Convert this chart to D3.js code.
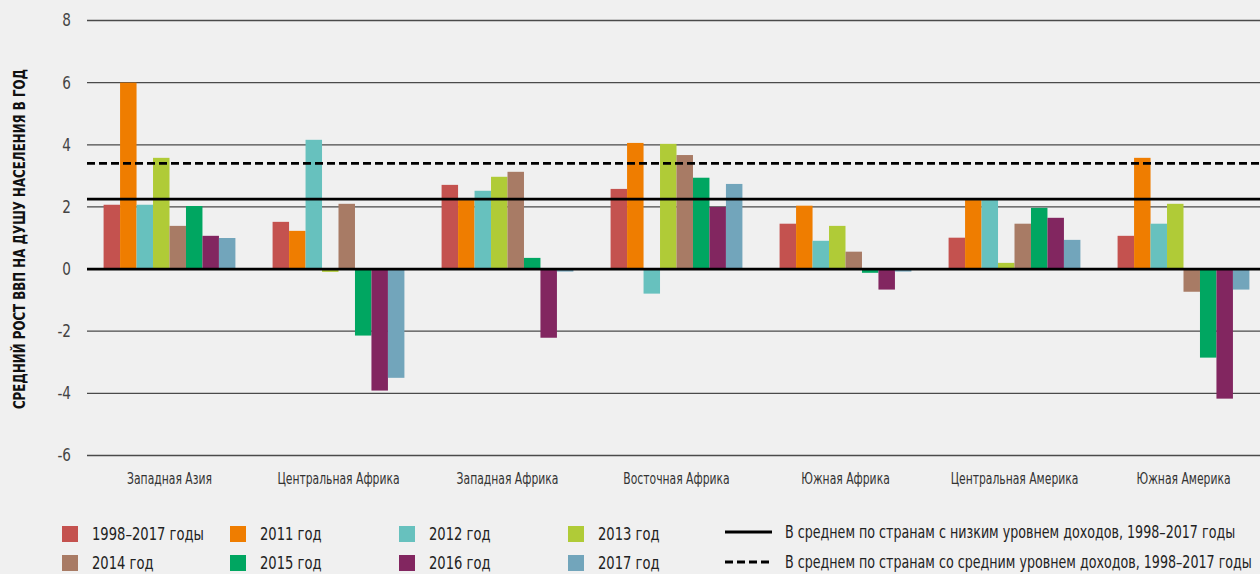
<!DOCTYPE html>
<html>
<head>
<meta charset="utf-8">
<script src="https://cdn.jsdelivr.net/npm/d3@7/dist/d3.min.js"></script>
<style>
  body { margin: 0; background: #f0f0f0; }
  svg { display: block; font-family: "DejaVu Sans", sans-serif; }
</style>
</head>
<body>
<svg></svg>
<script>
// regions on the x axis
var regions = ["Западная Азия", "Центральная Африка", "Западная Африка", "Восточная Африка",
  "Южная Африка", "Центральная Америка", "Южная Америка"];

var seriesNames = ["1998–2017 годы", "2011 год", "2012 год", "2013 год",
  "2014 год", "2015 год", "2016 год", "2017 год"];
var seriesColors = ["#c4524f", "#ef7d00", "#67c1be", "#b0cb37", "#a87b65", "#00a661", "#822660", "#72a5bb"];

// one array per series, values in region order
var avg1998_2017 = [2.07, 1.52, 2.71, 2.58, 1.46, 1.01, 1.07];
var y2011 = [6.0, 1.23, 2.22, 4.06, 2.04, 2.22, 3.58];
var y2012 = [2.07, 4.16, 2.52, -0.79, 0.91, 2.22, 1.46];
var y2013 = [3.58, -0.09, 2.97, 4.03, 1.39, 0.2, 2.1];
var y2014 = [1.39, 2.1, 3.13, 3.67, 0.56, 1.46, -0.73];
var y2015 = [2.03, -2.14, 0.36, 2.94, -0.12, 1.97, -2.85];
var y2016 = [1.07, -3.91, -2.21, 2.0, -0.66, 1.65, -4.17];
var y2017 = [1.0, -3.5, -0.08, 2.74, -0.08, 0.94, -0.66];
var allSeries = [avg1998_2017, y2011, y2012, y2013, y2014, y2015, y2016, y2017];

var yTicks = [-6, -4, -2, 0, 2, 4, 6, 8];

// reference lines
var lowIncomeAvg = 2.25;
var middleIncomeAvg = 3.4;
var refNames = ["В среднем по странам с низким уровнем доходов, 1998–2017 годы",
  "В среднем по странам со средним уровнем доходов, 1998–2017 годы"];

var width = 1260, height = 574;
var svg = d3.select("svg").attr("width", width).attr("height", height);

// no condensed font installed, so squeeze text horizontally
function squeeze(sel, sx) {
  sel.attr("transform", function () {
    var x = +this.getAttribute("x") || 0, y = +this.getAttribute("y") || 0;
    return "translate(" + x + "," + y + ") scale(" + sx + ",1)";
  }).attr("x", 0).attr("y", 0);
}

var x0 = d3.scaleBand().domain(regions).range([85, 1268]).paddingInner(0.22).paddingOuter(0.11);
var x1 = d3.scaleBand().domain(d3.range(seriesNames.length)).range([0, x0.bandwidth()]);
var y = d3.scaleLinear().domain([-6, 8]).range([455.5, 20.5]);

// grid
svg.append("g").selectAll("line").data(yTicks).join("line")
  .attr("x1", 87).attr("x2", width)
  .attr("y1", d => y(d)).attr("y2", d => y(d))
  .attr("stroke", "#4a4a4a").attr("stroke-width", 1.3);

svg.append("g").selectAll("text").data(yTicks).join("text")
  .attr("x", 71).attr("y", d => y(d)).attr("dy", "0.35em")
  .attr("text-anchor", "end").style("font-size", "17px").style("fill", "#444")
  .text(d => d)
  .call(squeeze, 0.8);

// bars
var groups = svg.append("g").selectAll("g").data(regions).join("g")
  .attr("transform", d => "translate(" + x0(d) + ",0)");

groups.selectAll("rect")
  .data((r, ri) => allSeries.map((s, si) => ({ si: si, v: s[ri] })))
  .join("rect")
  .attr("x", d => x1(d.si))
  .attr("width", x1.bandwidth())
  .attr("y", d => y(Math.max(0, d.v)))
  .attr("height", d => Math.abs(y(d.v) - y(0)))
  .attr("fill", d => seriesColors[d.si]);

// zero line + reference lines on top
svg.append("line").attr("x1", 87).attr("x2", width).attr("y1", y(0)).attr("y2", y(0))
  .attr("stroke", "#000").attr("stroke-width", 2.8);
svg.append("line").attr("x1", 87).attr("x2", width).attr("y1", y(lowIncomeAvg)).attr("y2", y(lowIncomeAvg))
  .attr("stroke", "#000").attr("stroke-width", 2.8);
svg.append("line").attr("x1", 87).attr("x2", width).attr("y1", y(middleIncomeAvg)).attr("y2", y(middleIncomeAvg))
  .attr("stroke", "#000").attr("stroke-width", 2.8).attr("stroke-dasharray", "8,4");

// category labels
svg.append("g").selectAll("text").data(regions).join("text")
  .attr("x", d => x0(d) + x0.bandwidth() / 2).attr("y", 484)
  .attr("text-anchor", "middle").style("font-size", "15px").style("fill", "#333")
  .text(d => d)
  .call(squeeze, 0.72);

// y title
svg.append("text")
  .attr("transform", "translate(25,239) rotate(-90) scale(0.74,1)")
  .attr("text-anchor", "middle")
  .style("font-size", "16px").style("font-weight", "bold").style("fill", "#111")
  .text("СРЕДНИЙ РОСТ ВВП НА ДУШУ НАСЕЛЕНИЯ В ГОД");

// legend
var legX = [62, 230, 399, 568], legY = [526, 555];
var leg = svg.append("g").selectAll("g").data(seriesNames).join("g")
  .attr("transform", (d, i) => "translate(" + legX[i % 4] + "," + legY[Math.floor(i / 4)] + ")");
leg.append("rect").attr("width", 16).attr("height", 16).attr("fill", (d, i) => seriesColors[i]);
leg.append("text").attr("x", 30).attr("y", 8).attr("dy", "0.35em")
  .style("font-size", "18px").style("fill", "#222").text(d => d)
  .call(squeeze, 0.73);

var refLeg = svg.append("g").selectAll("g").data(refNames).join("g")
  .attr("transform", (d, i) => "translate(725," + [532, 562][i] + ")");
refLeg.append("line").attr("x1", 0).attr("x2", 47)
  .attr("stroke", "#000").attr("stroke-width", 2.8)
  .attr("stroke-dasharray", (d, i) => i ? "8,4" : null);
refLeg.append("text").attr("x", 60).attr("dy", "0.35em")
  .style("font-size", "18px").style("fill", "#222").text(d => d)
  .call(squeeze, 0.705);
</script>
</body>
</html>
